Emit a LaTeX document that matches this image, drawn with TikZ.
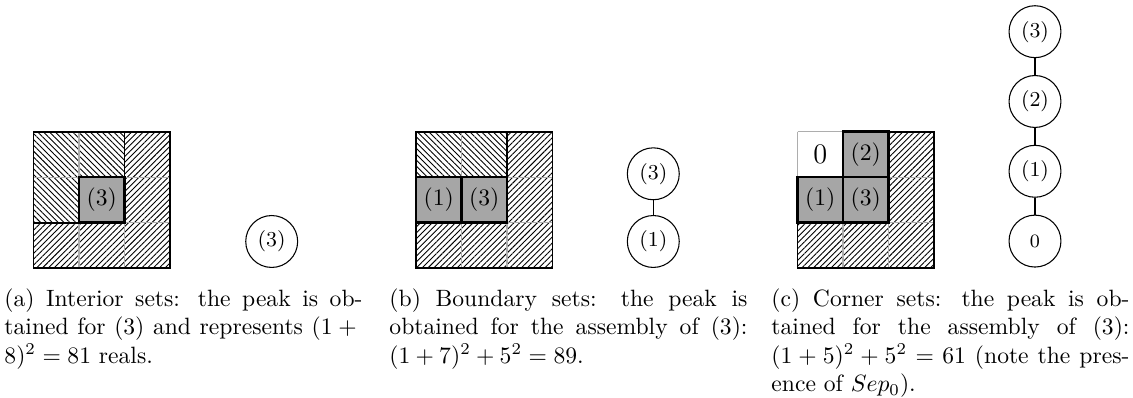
\documentclass[tikz,border=0pt]{standalone}
\usetikzlibrary{patterns.meta}
\definecolor{cellgray}{gray}{0.65}
\definecolor{gridgray}{gray}{0.68}
\tikzset{
  nwfill/.style={pattern={Lines[angle=-45,distance=1.75pt,line width=0.38pt]}},
  nefill/.style={pattern={Lines[angle=45,distance=1.75pt,line width=0.38pt]}},
  gridline/.style={draw=gridgray,line width=0.55pt},
  bound/.style={draw=black,line width=0.8pt},
  cellbox/.style={draw=black,line width=1.1pt,fill=cellgray,minimum size=19.28pt,inner sep=0pt,font=\normalsize},
  zerocell/.style={minimum size=19.28pt,inner sep=0pt,font=\large},
  circ/.style={circle,draw=black,line width=0.45pt,minimum size=22pt,inner sep=0pt,font=\small},
  capt/.style={text width=151.7pt,align=justify,inner sep=0pt,anchor=north west,font=\normalsize},
  panel/.style={x=19.28pt,y=-19.28pt}
}
\begin{document}
\begin{tikzpicture}[x=0.4237pt,y=-0.4237pt]
\useasboundingbox (0,0) rectangle (1133,398);

% ---------- panel (a) ----------
\begin{scope}[shift={(33.5,131.7)},panel]
  \fill[nwfill] (0,0) -- (2,0) -- (2,1) -- (1,1) -- (1,2) -- (0,2) -- cycle;
  \fill[nefill] (2,0) -- (3,0) -- (3,3) -- (0,3) -- (0,2) -- (2,2) -- cycle;
  \draw[gridline] (1,0) -- (1,3) (2,0) -- (2,3) (0,1) -- (3,1) (0,2) -- (3,2);
  \draw[bound] (2,0) -- (2,1) (0,2) -- (1,2);
  \draw[bound] (0,0) rectangle (3,3);
  \node[cellbox] (a33) at (1.5,1.5) {(3)};
\end{scope}
\node[circ] (ca3) at (271.7,241.5) {(3)};

% ---------- panel (b) ----------
\begin{scope}[shift={(416,131.7)},panel]
  \fill[nwfill] (0,0) rectangle (2,1);
  \fill[nefill] (2,0) -- (3,0) -- (3,3) -- (0,3) -- (0,2) -- (2,2) -- cycle;
  \draw[gridline] (1,0) -- (1,3) (2,0) -- (2,3) (0,1) -- (3,1) (0,2) -- (3,2);
  \draw[bound] (2,0) -- (2,1);
  \draw[bound] (0,0) rectangle (3,3);
  \node[cellbox] (b21) at (0.5,1.5) {(1)};
  \node[cellbox] (b22) at (1.5,1.5) {(3)};
\end{scope}
\node[circ] (cb3) at (653.3,173.8) {(3)};
\node[circ] (cb1) at (653.3,241.5) {(1)};
\draw[line width=0.45pt] (cb3) -- (cb1);

% ---------- panel (c) ----------
\begin{scope}[shift={(797.5,131.7)},panel]
  \fill[nefill] (2,0) -- (3,0) -- (3,3) -- (0,3) -- (0,2) -- (2,2) -- cycle;
  \draw[gridline] (1,0) -- (1,3) (2,0) -- (2,3) (0,1) -- (3,1) (0,2) -- (3,2)
                  (0,0) -- (1,0) (0,0) -- (0,1);
  \draw[bound] (1,0) -- (3,0) -- (3,3) -- (0,3) -- (0,1);
  \node[zerocell] (c11) at (0.5,0.5) {0};
  \node[cellbox] (c12) at (1.5,0.5) {(2)};
  \node[cellbox] (c21) at (0.5,1.5) {(1)};
  \node[cellbox] (c22) at (1.5,1.5) {(3)};
\end{scope}
\node[circ] (cc3) at (1035,31.7) {(3)};
\node[circ] (cc2) at (1035,101.5) {(2)};
\node[circ] (cc1) at (1035,171.3) {(1)};
\node[circ,font=\footnotesize] (cc0) at (1035,241.1) {0};
\draw[line width=0.45pt] (cc3) -- (cc2) (cc2) -- (cc1) (cc1) -- (cc0);

% ---------- captions ----------
\node[capt] (capa) at (4,288.5) {(a) Interior sets: the peak is ob-\linebreak tained for (3) and represents $(1+{}$\linebreak $8)^2=81$ reals.};
\node[capt] (capb) at (389,288.5) {(b) Boundary sets: the peak is\linebreak obtained for the assembly of (3):\linebreak $(1+7)^2+5^2=89$.};
\node[capt] (capc) at (771,288.5) {(c) Corner sets: the peak is ob-\linebreak tained for the assembly of (3):\linebreak $(1+5)^2+5^2=61$ (note the pres-\linebreak ence of $Sep_0$).};
\end{tikzpicture}
\end{document}
